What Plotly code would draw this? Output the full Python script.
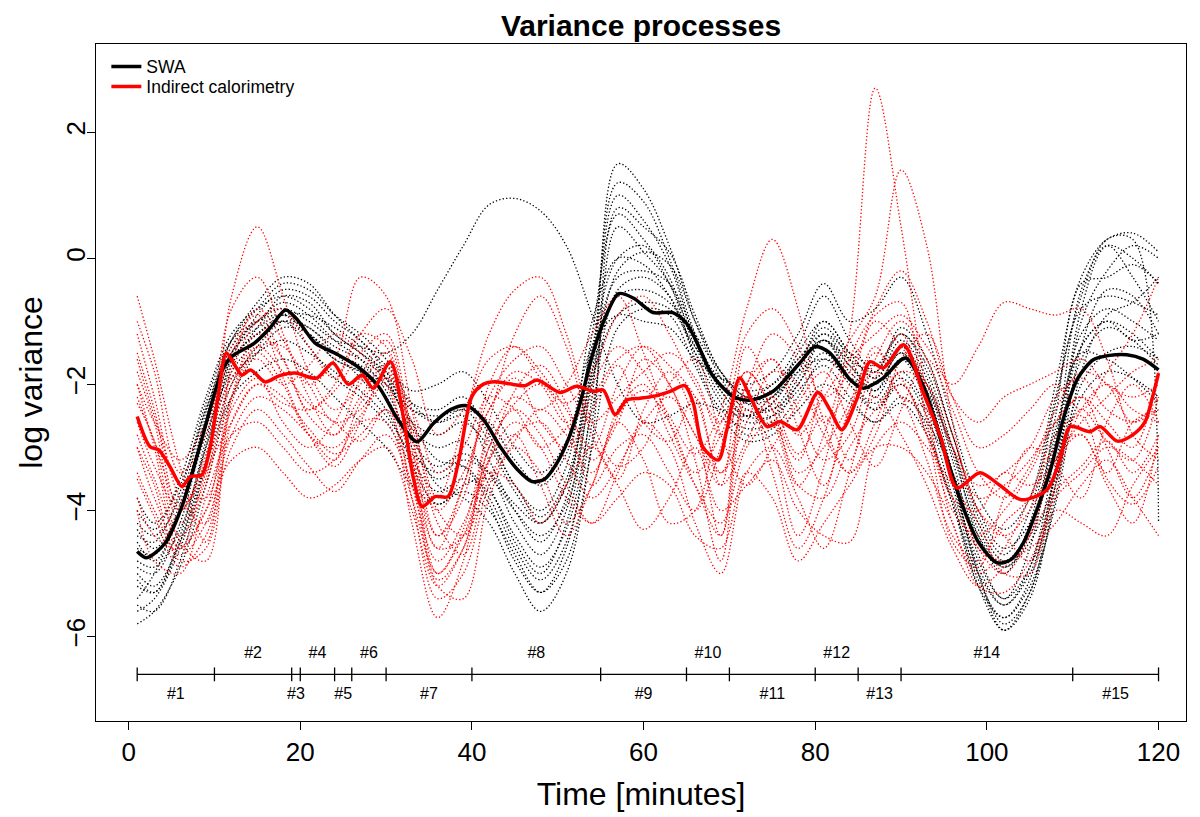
import plotly.graph_objects as go

# ---------------- data ----------------
TIME_GRID = [1, 3, 6, 9, 12, 15, 18, 21, 24, 27, 30, 33, 36, 39, 42, 45, 48, 51, 54, 57,
             60, 63, 66, 69, 72, 75, 78, 81, 84, 87, 90, 93, 96, 99, 102, 105, 108, 111, 114, 117, 120]

SWA_SUBJECTS = [
    [-5.5,-5.6,-4.8,-3.2,-1.6,-0.9,-0.5,-0.6,-1.0,-1.3,-1.8,-2.6,-3.2,-3.3,-3.9,-4.8,-5.3,-4.6,-2.2,1.5,1.1,0.2,-1.0,-1.9,-2.4,-2.4,-1.8,-1.2,-1.7,-2.1,-1.4,-2.0,-3.4,-5.0,-5.9,-5.4,-3.6,-1.0,-0.2,0.2,0.0],
    [-5.2,-5.3,-4.5,-3.0,-1.7,-1.1,-0.6,-0.7,-1.2,-1.5,-1.9,-2.7,-3.0,-2.9,-3.6,-4.5,-5.0,-4.2,-1.8,1.2,0.9,0.0,-1.2,-2.1,-2.5,-2.3,-1.7,-1.1,-1.6,-2.2,-1.6,-2.3,-3.6,-5.1,-5.7,-5.1,-3.3,-0.8,0.2,0.0,-0.4],
    [-4.9,-5.0,-4.2,-2.6,-1.4,-1.0,-0.7,-0.9,-1.3,-1.6,-2.1,-2.9,-3.3,-3.1,-3.4,-4.2,-4.7,-4.0,-1.6,1.0,0.6,-0.1,-1.3,-2.2,-2.6,-2.5,-1.9,-1.3,-1.9,-2.3,-1.8,-2.4,-3.5,-4.9,-5.5,-4.9,-3.0,-0.5,0.2,-0.3,-1.0],
    [-4.5,-4.8,-4.0,-2.5,-1.3,-0.8,-0.4,-0.5,-0.9,-1.2,-1.6,-2.3,-2.6,-2.5,-3.2,-4.0,-4.5,-3.8,-1.2,0.7,0.3,-0.3,-1.4,-2.0,-2.3,-2.2,-1.5,-1.0,-1.5,-1.9,-1.3,-1.9,-3.2,-4.7,-5.4,-4.6,-2.5,-0.4,-0.3,-0.1,-0.4],
    [-4.2,-4.4,-3.8,-2.4,-1.5,-1.0,-0.8,-1.0,-1.3,-1.4,-1.5,-1.2,-0.5,0.2,0.85,0.95,0.75,0.2,-0.9,-2.0,-2.6,-2.5,-2.3,-2.4,-2.5,-2.2,-1.8,-1.6,-1.9,-2.0,-1.5,-2.1,-3.0,-4.2,-4.8,-4.3,-2.8,-1.4,-1.0,-1.2,-1.6],
    [-5.8,-5.6,-4.9,-3.6,-2.2,-1.5,-1.1,-1.2,-1.6,-1.8,-2.2,-3.0,-3.5,-3.3,-3.8,-4.6,-5.1,-4.5,-2.6,0.5,0.1,-0.4,-1.6,-2.4,-2.7,-2.6,-2.0,-1.5,-2.0,-2.4,-1.9,-2.5,-3.8,-5.2,-5.9,-5.3,-3.8,-1.4,-0.5,-0.6,-1.2],
    [-4.0,-4.3,-3.5,-2.2,-1.2,-0.8,-0.6,-0.8,-1.2,-1.5,-1.8,-2.3,-2.4,-2.2,-2.8,-3.6,-4.0,-3.3,-1.0,0.0,-0.1,-0.6,-1.5,-2.0,-2.2,-2.0,-1.4,-0.6,-1.3,-1.8,-1.2,-1.8,-3.0,-4.4,-5.0,-4.2,-2.3,-0.8,-0.6,-0.7,-0.9],
    [-5.0,-5.2,-4.5,-3.2,-2.0,-1.4,-1.0,-1.1,-1.5,-1.9,-2.4,-3.2,-3.7,-3.5,-3.7,-4.4,-4.9,-4.3,-2.4,-0.5,-0.3,-0.6,-1.5,-2.3,-2.8,-2.7,-2.2,-1.6,-1.9,-2.4,-2.0,-2.7,-3.9,-5.2,-5.7,-5.2,-3.9,-1.8,-0.9,-0.7,-0.3],
    [-4.3,-4.6,-4.0,-2.8,-1.8,-1.3,-1.0,-1.2,-1.5,-1.7,-2.0,-2.6,-2.8,-2.6,-3.0,-3.7,-4.2,-3.6,-1.9,-0.9,-0.7,-0.8,-1.4,-1.9,-2.1,-2.0,-1.6,-1.3,-1.6,-1.8,-1.1,-1.6,-2.8,-4.1,-4.7,-4.0,-2.2,-0.6,0.3,0.3,-4.2],
    [-5.4,-5.0,-4.0,-2.7,-1.6,-1.2,-1.0,-1.4,-1.9,-2.2,-2.6,-3.3,-3.9,-3.6,-3.5,-4.0,-4.4,-3.9,-2.0,-0.2,0.1,-0.1,-1.0,-1.8,-2.3,-2.4,-2.0,-1.3,-1.7,-2.0,-1.5,-2.2,-3.5,-4.8,-5.4,-4.9,-3.4,-1.6,-1.1,-1.3,-1.7],
    [-3.8,-4.2,-3.6,-2.4,-1.3,-0.7,-0.3,-0.4,-0.9,-1.3,-1.7,-2.1,-2.0,-1.8,-2.3,-3.0,-3.4,-2.9,-1.4,-0.9,-1.0,-1.1,-1.6,-1.9,-2.0,-1.8,-1.2,-0.4,-1.0,-0.8,-0.3,-1.2,-2.6,-3.8,-4.3,-3.8,-2.0,-0.3,0.3,0.4,0.1],
    [-4.8,-4.9,-4.3,-3.0,-1.9,-1.5,-1.3,-1.5,-1.8,-2.1,-2.5,-3.1,-3.4,-3.2,-3.4,-3.9,-4.2,-3.6,-1.8,-0.6,-0.5,-0.7,-1.3,-2.0,-2.5,-2.5,-2.1,-1.7,-2.2,-2.6,-2.2,-2.6,-3.4,-4.4,-4.9,-4.5,-3.5,-2.2,-1.8,-1.9,-2.2],
    [-5.6,-5.4,-4.6,-3.3,-2.2,-1.8,-1.6,-1.8,-2.2,-2.6,-3.0,-3.6,-3.9,-3.7,-4.0,-4.7,-5.3,-4.8,-3.0,-1.1,-0.8,-0.9,-1.7,-2.5,-2.9,-2.8,-2.4,-2.0,-2.3,-2.6,-2.3,-2.8,-3.9,-5.0,-5.5,-5.0,-3.6,-2.0,-1.5,-1.4,-1.6],
    [-4.6,-4.7,-3.9,-2.6,-1.5,-1.1,-0.9,-1.1,-1.4,-1.6,-1.9,-2.4,-2.5,-2.4,-2.6,-3.2,-3.6,-3.1,-1.4,0.0,0.2,-0.4,-1.3,-2.1,-2.5,-2.3,-1.7,-1.3,-1.8,-2.1,-1.6,-2.0,-3.1,-4.3,-4.9,-4.4,-2.9,-1.2,-0.8,-1.0,-1.3],
    [-5.1,-5.3,-4.4,-2.9,-1.6,-1.2,-0.9,-0.9,-1.1,-1.4,-1.9,-2.8,-3.6,-3.8,-4.2,-5.0,-5.6,-5.0,-2.9,0.8,0.5,0.1,-0.9,-1.8,-2.2,-2.2,-1.7,-1.0,-1.5,-1.9,-1.4,-2.1,-3.5,-5.0,-5.8,-5.3,-3.4,-1.4,-1.0,-1.3,-1.2],
    [-4.4,-4.5,-3.7,-2.3,-1.3,-1.0,-0.9,-1.2,-1.6,-1.8,-2.0,-2.4,-2.6,-2.4,-2.9,-3.6,-4.1,-3.5,-1.6,-0.3,-0.2,-0.4,-1.2,-1.8,-2.2,-2.1,-1.6,-1.2,-1.5,-1.7,-1.2,-1.7,-2.8,-4.0,-4.6,-4.2,-2.7,-1.5,-1.6,-1.9,-2.3],
]

IC_SUBJECTS = [
    [-1.8,-2.6,-4.2,-3.5,-0.6,0.5,-0.6,-1.8,-2.4,-2.0,-1.5,-3.4,-4.6,-3.6,-2.4,-1.9,-2.6,-3.0,-2.4,-1.7,-2.6,-2.9,-2.2,-3.6,-1.4,-2.2,-3.1,-2.5,-3.2,-1.9,-1.2,-2.5,-3.8,-4.0,-3.4,-3.6,-3.2,-2.4,-2.9,-3.2,-2.2],
    [-0.6,-1.6,-3.3,-4.5,-2.2,-1.2,-1.6,-2.5,-2.8,-1.9,-1.3,-3.0,-5.0,-4.3,-2.6,-1.2,-0.6,-1.4,-2.8,-3.5,-2.4,-1.8,-2.6,-4.4,-2.0,-1.6,-2.7,-3.6,-2.4,-1.5,-1.9,-2.8,-4.5,-4.9,-3.8,-3.0,-3.3,-3.8,-2.6,-2.0,-2.6],
    [-1.2,-2.2,-3.8,-4.2,-1.7,-0.8,-1.3,-2.0,-1.6,-0.3,-0.6,-2.4,-4.2,-4.7,-3.2,-2.1,-1.7,-2.3,-3.2,-2.6,-1.6,-2.0,-3.2,-4.8,-2.4,-3.0,-4.4,-3.3,-1.6,-0.9,-0.7,-2.6,-4.0,-4.4,-4.0,-3.4,-2.6,-2.2,-3.0,-3.8,-3.0],
    [-2.3,-2.9,-4.5,-4.8,-2.3,-1.5,-2.0,-2.8,-3.0,-2.5,-2.0,-3.8,-5.4,-5.0,-3.6,-2.9,-2.4,-2.8,-3.4,-2.5,-2.1,-2.6,-3.6,-4.4,-2.2,-2.6,-3.6,-2.8,-1.2,2.7,0.5,-2.2,-4.2,-5.0,-4.6,-3.8,-2.8,-2.5,-3.5,-3.9,-3.3],
    [-3.0,-3.6,-4.8,-4.6,-2.6,-2.0,-2.3,-2.4,-2.1,-1.5,-1.2,-2.8,-4.6,-4.4,-3.0,-2.3,-2.0,-2.6,-3.6,-3.0,-2.8,-3.4,-4.0,-3.0,-1.8,-2.4,-3.2,-2.0,-1.3,-0.6,1.4,0.2,-2.6,-4.0,-4.4,-4.0,-3.2,-2.8,-3.6,-4.2,-2.8],
    [-1.5,-2.4,-4.0,-3.2,-1.5,-1.0,-1.9,-2.8,-3.3,-2.6,-1.8,-2.6,-3.8,-2.6,-1.2,-0.5,-0.3,-1.2,-2.6,-3.3,-3.0,-2.0,-1.6,-2.8,-3.6,-3.0,-2.3,-1.8,-2.6,-3.3,-2.4,-1.6,-2.4,-3.4,-3.8,-3.3,-2.4,-1.8,-2.0,-2.6,-2.2],
    [-2.8,-3.5,-4.4,-3.6,-2.0,-1.4,-1.8,-2.3,-2.6,-2.9,-2.4,-3.1,-4.0,-3.4,-2.4,-1.8,-2.0,-2.6,-2.0,-1.4,-1.8,-2.5,-3.1,-2.4,-0.8,0.3,-0.8,-2.6,-3.4,-2.6,-1.8,-2.0,-3.0,-4.0,-4.4,-4.8,-3.6,-2.4,-2.0,-2.4,-2.6],
    [-3.4,-4.0,-4.7,-4.2,-2.8,-2.2,-2.4,-2.8,-3.2,-2.3,-1.9,-2.7,-4.0,-4.4,-3.5,-2.8,-2.6,-3.2,-3.8,-3.3,-2.6,-2.2,-2.8,-3.6,-2.9,-2.2,-2.8,-2.2,-1.6,-1.2,-0.9,-1.4,-2.0,-1.4,-0.7,-0.8,-0.9,-0.8,-1.6,-2.8,-3.2],
    [-2.0,-3.0,-4.6,-4.0,-2.4,-1.9,-2.6,-3.0,-2.6,-1.9,-2.2,-4.2,-5.7,-4.8,-3.0,-2.4,-2.8,-3.6,-4.2,-3.4,-2.6,-3.0,-4.2,-5.0,-3.4,-3.0,-3.8,-4.6,-3.4,-2.2,-2.8,-3.6,-4.6,-5.2,-4.9,-4.4,-3.7,-3.3,-2.9,-3.4,-2.8],
    [-1.0,-1.8,-3.4,-2.8,-0.8,-0.3,-1.2,-2.2,-2.8,-2.2,-1.7,-3.2,-5.1,-4.6,-2.8,-2.2,-2.4,-2.0,-1.2,-0.6,-1.5,-2.6,-3.4,-2.8,-1.8,-2.4,-3.4,-3.0,-2.3,-1.4,-2.2,-2.4,-3.4,-4.6,-5.0,-4.4,-3.2,-2.6,-2.2,-1.8,-1.6],
    [-3.5,-4.1,-4.9,-4.4,-3.0,-2.4,-2.8,-3.3,-3.7,-3.2,-2.8,-3.6,-5.2,-5.4,-3.8,-3.0,-3.4,-4.2,-3.6,-2.4,-2.0,-2.8,-3.6,-4.2,-3.0,-2.6,-3.6,-3.8,-3.0,-2.4,-2.0,-2.8,-3.8,-4.6,-4.8,-4.6,-4.2,-3.6,-3.2,-3.8,-4.4],
    [-2.6,-3.3,-4.0,-3.1,-1.9,-1.6,-2.0,-1.7,-1.2,-1.5,-2.0,-3.2,-4.4,-3.8,-2.0,-1.4,-1.8,-2.4,-3.0,-2.0,-1.4,-1.7,-2.2,-3.4,-2.2,-1.6,-2.4,-3.2,-2.8,-1.6,-1.0,-1.6,-2.8,-3.8,-3.6,-3.2,-2.6,-2.2,-2.6,-3.0,-1.8],
    [-1.6,-2.5,-3.6,-3.8,-2.2,-1.4,-1.4,-2.0,-2.6,-2.4,-1.9,-2.4,-3.4,-3.0,-2.2,-2.4,-3.0,-2.7,-2.2,-1.6,-1.4,-2.0,-2.8,-3.4,-2.6,-1.8,-2.0,-2.8,-3.4,-2.8,-1.6,-1.2,-2.2,-3.0,-2.8,-2.4,-2.0,-2.4,-1.8,-1.2,-0.3],
    [-3.8,-4.4,-4.6,-3.4,-2.6,-2.0,-2.2,-2.7,-3.1,-2.8,-2.4,-3.6,-4.8,-4.2,-3.2,-2.8,-3.6,-4.4,-3.6,-2.6,-3.2,-4.2,-4.0,-2.6,-2.2,-3.4,-4.6,-3.8,-2.4,-1.8,-2.2,-3.2,-4.4,-4.8,-4.2,-3.8,-3.0,-2.8,-3.4,-2.6,-2.4],
    [-2.2,-2.9,-3.9,-3.4,-1.8,-1.0,-0.8,-1.4,-1.9,-1.2,-0.8,-1.6,-2.8,-2.4,-1.6,-1.4,-1.9,-2.3,-1.8,-0.9,-0.6,-1.2,-2.0,-2.6,-1.2,-0.8,-1.4,-2.2,-1.8,-0.8,-0.2,-1.0,-2.2,-2.6,-2.2,-2.0,-1.8,-1.6,-2.0,-2.2,-2.0],
    [-4.0,-4.8,-5.0,-3.8,-2.8,-2.6,-3.0,-3.4,-3.2,-2.6,-2.6,-3.8,-5.0,-4.4,-3.4,-3.6,-4.2,-3.6,-3.0,-3.6,-4.3,-3.8,-3.0,-4.0,-3.6,-3.2,-4.0,-4.4,-4.5,-3.0,-2.6,-3.0,-3.6,-4.2,-5.0,-5.0,-4.0,-4.2,-4.4,-3.6,-3.0],
    [-2.0,-2.6,-3.2,-2.6,-1.4,-0.9,-1.6,-2.4,-2.0,-1.2,-1.4,-2.8,-4.4,-3.6,-2.2,-1.6,-1.4,-2.0,-2.6,-2.2,-1.8,-1.5,-1.9,-2.8,-2.0,-1.2,-1.6,-2.6,-2.0,-1.0,-1.4,-2.0,-3.0,-3.6,-3.4,-3.0,-2.2,-1.9,-2.4,-2.6,-2.4],
    [-3.0,-3.8,-4.6,-4.0,-3.2,-3.0,-3.4,-3.8,-3.6,-3.2,-3.0,-4.0,-5.2,-4.6,-3.2,-2.6,-3.0,-3.8,-4.2,-3.8,-3.4,-3.6,-4.4,-4.6,-3.4,-3.8,-4.8,-4.2,-3.6,-3.0,-3.0,-3.4,-4.2,-5.2,-5.3,-4.8,-3.8,-3.4,-3.0,-3.2,-3.6],
]

SWA_MEAN_T = [1, 2.1, 4.25, 6.2, 8.5, 10, 11, 12, 14.7, 16.5, 18.3, 19.7, 21.7, 24.4, 26.7, 29.1,
              31.4, 33.6, 35.5, 37.5, 39.4, 41.3, 43.3, 45.3, 47, 48.5, 49.9, 51.3, 52.6, 54, 55.5,
              57.1, 58.8, 61.1, 63.4, 65, 66.6, 68, 70.4, 72.4, 75.1, 78.2, 80, 81.7, 84.1, 85.6,
              87.9, 90.5, 92.6, 94.9, 97.2, 99, 101.2, 102.8, 104.3, 105.8, 107.4, 109, 110.6,
              112.4, 114.3, 116.3, 118.2, 120]
SWA_MEAN = [-4.65, -4.75, -4.52, -3.94, -2.88, -2.15, -1.75, -1.56, -1.34, -1.1, -0.82, -0.98,
            -1.34, -1.53, -1.72, -2.03, -2.56, -2.91, -2.62, -2.4, -2.34, -2.55, -2.99, -3.35, -3.54,
            -3.5, -3.25, -2.85, -2.3, -1.55, -0.95, -0.56, -0.63, -0.86, -0.86, -1.03, -1.45, -1.85,
            -2.19, -2.25, -2.11, -1.66, -1.4, -1.5, -1.93, -2.06, -1.9, -1.58, -2.03, -2.99, -3.94,
            -4.5, -4.83, -4.78, -4.5, -4.0, -3.36, -2.5, -1.9, -1.61, -1.54, -1.53, -1.6, -1.77]

IC_MEAN_T = [1, 2.5, 3.5, 4.8, 6.2, 7.2, 8.5, 9.5, 10.4, 11.4, 12.3, 13.2, 14.2, 15.9, 17.6,
             19.4, 21.9, 23.8, 25.6, 27.2, 28.5, 30.5, 32, 33.2, 34.2, 35.7, 37.2, 38.4, 40, 41.3,
             42.7, 44.8, 46.2, 47.6, 50.3, 52.2, 54.2, 55.3, 56.7, 58, 59.6, 61.1, 63.1, 64.8, 65.8,
             66.9, 68.7, 69.7, 71.2, 72.6, 74.4, 75.9, 77.9, 80.3, 81.7, 83.1, 84.8, 86.4, 87.9,
             90.3, 92.6, 94.6, 96.5, 99.2, 101.5, 104, 107, 108.5, 109.7, 112, 113.2, 115.2, 117,
             118.4, 119.3, 120]
IC_MEAN = [-2.51, -2.99, -3.04, -3.3, -3.62, -3.46, -3.44, -3.0, -2.2, -1.5, -1.68, -1.85, -1.77,
           -1.96, -1.86, -1.82, -1.9, -1.66, -2.0, -1.85, -2.06, -1.64, -2.51, -3.5, -3.94, -3.78,
           -3.78, -3.25, -2.19, -2.0, -1.96, -2.0, -2.02, -1.93, -2.13, -2.03, -2.11, -2.09, -2.48,
           -2.25, -2.22, -2.19, -2.11, -2.02, -2.3, -2.99, -3.2, -2.72, -1.9, -2.25, -2.67, -2.59,
           -2.72, -2.13, -2.4, -2.72, -2.25, -1.64, -1.74, -1.37, -2.13, -2.83, -3.64, -3.4, -3.6,
           -3.83, -3.67, -3.2, -2.67, -2.75, -2.67, -2.9, -2.8, -2.6, -2.2, -1.82]

SEG_BOUNDS = [1, 10, 19, 20, 24, 26, 30, 40, 55, 65, 70, 80, 85, 90, 110, 120]
SEG_LABELS = ["#1", "#2", "#3", "#4", "#5", "#6", "#7", "#8", "#9", "#10",
              "#11", "#12", "#13", "#14", "#15"]

X_TICKS = [0, 20, 40, 60, 80, 100, 120]
Y_TICKS = [-6, -4, -2, 0, 2]

LEGEND_NAMES = ["SWA", "Indirect calorimetry"]

# ---------------- styling constants ----------------
FONT = "Liberation Sans, Arial, Helvetica, sans-serif"
BLACK = "#000000"
RED = "#FF0000"
BAR_Y = -6.6
TICK_HALF = 0.11
LABEL_UP = 0.32
LABEL_DOWN = 0.33
THIN = dict(width=1.3, dash="1.3px,2.2px", shape="spline", smoothing=1.0)
# page body has an 8px margin in the browser; figure is sized to fit the window
W, H = 1192, 809

fig = go.Figure()

for vals in SWA_SUBJECTS:
    fig.add_trace(go.Scatter(x=TIME_GRID, y=vals, mode="lines",
                             line=dict(color=BLACK, **THIN),
                             showlegend=False, hoverinfo="skip"))
for vals in IC_SUBJECTS:
    fig.add_trace(go.Scatter(x=TIME_GRID, y=vals, mode="lines",
                             line=dict(color=RED, **THIN),
                             showlegend=False, hoverinfo="skip"))

fig.add_trace(go.Scatter(x=SWA_MEAN_T, y=SWA_MEAN, mode="lines", name=LEGEND_NAMES[0],
                         legend="legend",
                         line=dict(color=BLACK, width=3.5, shape="spline", smoothing=0.8)))
fig.add_trace(go.Scatter(x=IC_MEAN_T, y=IC_MEAN, mode="lines", name=LEGEND_NAMES[1],
                         legend="legend2",
                         line=dict(color=RED, width=3.5, shape="spline", smoothing=0.8)))

# segment bar
fig.add_trace(go.Scatter(x=[SEG_BOUNDS[0], SEG_BOUNDS[-1]], y=[BAR_Y, BAR_Y], mode="lines",
                         line=dict(color=BLACK, width=1.3), showlegend=False, hoverinfo="skip"))
tx, ty = [], []
for b in SEG_BOUNDS:
    tx += [b, b, None]
    ty += [BAR_Y - TICK_HALF, BAR_Y + TICK_HALF, None]
fig.add_trace(go.Scatter(x=tx, y=ty, mode="lines", line=dict(color=BLACK, width=1.3),
                         showlegend=False, hoverinfo="skip"))
mids = [(SEG_BOUNDS[i] + SEG_BOUNDS[i + 1]) / 2 for i in range(len(SEG_LABELS))]
ly = [BAR_Y - LABEL_DOWN if i % 2 == 0 else BAR_Y + LABEL_UP for i in range(len(SEG_LABELS))]
fig.add_trace(go.Scatter(x=mids, y=ly, mode="text", text=SEG_LABELS,
                         textfont=dict(family=FONT, size=16, color=BLACK),
                         textposition="middle center", showlegend=False, hoverinfo="skip"))

legend_common = dict(x=0.0095, xanchor="left", yanchor="middle", bgcolor="rgba(0,0,0,0)",
                     borderwidth=0, font=dict(size=17.5, family=FONT, color=BLACK))
fig.update_layout(
    width=W, height=H,
    margin=dict(l=88, r=14, t=36, b=96, autoexpand=False),
    paper_bgcolor="white", plot_bgcolor="white",
    font=dict(family=FONT, color=BLACK),
    title=dict(text="<b>Variance processes</b>", x=0.5, xref="paper", xanchor="center",
               y=1 - 7 / H, yanchor="top", automargin=False,
               font=dict(size=30, family=FONT, color=BLACK)),
    legend=dict(y=0.9665, **legend_common),
    legend2=dict(y=0.937, **legend_common),
    showlegend=True,
)
fig.update_xaxes(range=[-3.8, 123.2], tickvals=X_TICKS, ticks="outside", ticklen=8, tickwidth=1.2,
                 tickcolor=BLACK, showline=True, linecolor=BLACK, linewidth=1.3, mirror=True,
                 showgrid=False, zeroline=False, tickfont=dict(size=26, family=FONT), automargin=False,
                 title=dict(text="Time [minutes]", font=dict(size=32, family=FONT), standoff=16))
fig.update_yaxes(range=[-7.34, 3.40], tickvals=Y_TICKS, ticktext=["\u22126", "\u22124", "\u22122", "0", "2"],
                 ticks="outside", ticklen=8, tickwidth=1.2, tickcolor=BLACK, tickangle=-90,
                 ticklabelstandoff=-9,
                 showline=True, linecolor=BLACK, linewidth=1.3, mirror=True, automargin=False,
                 showgrid=False, zeroline=False, tickfont=dict(size=26, family=FONT),
                 title=dict(text="log variance", font=dict(size=32, family=FONT), standoff=9))

fig.write_html("out.html")
